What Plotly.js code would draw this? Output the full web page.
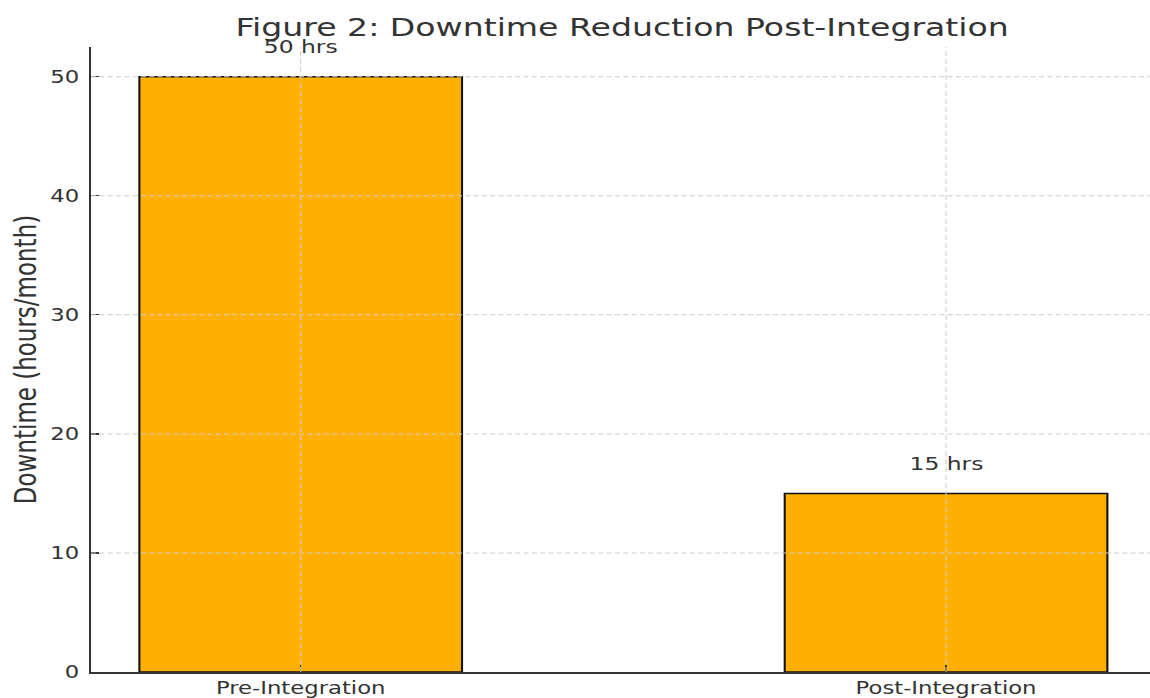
<!DOCTYPE html>
<html>
<head>
<meta charset="utf-8">
<script src="https://cdn.plot.ly/plotly-3.0.1.min.js"></script>
<style>
html,body{margin:0;padding:0;background:#fff;overflow:hidden;}
#wrap{width:1150px;height:698px;overflow:hidden;}
#chart{width:885px;height:698px;transform:scaleX(1.2994);transform-origin:0 0;}
</style>
</head>
<body>
<div id="wrap"><div id="chart"></div></div>
<script>
const categories = ["Pre-Integration", "Post-Integration"];
const downtime = [50, 15];
const barLabels = ["50 hrs", "15 hrs"];
const yTicks = [0, 10, 20, 30, 40, 50];

const txt = "#333333";
const gridColor = "#cccccc";
const font = "DejaVu Sans";

const trace = {
  type: "bar",
  x: categories,
  y: downtime,
  width: 0.5,
  marker: { color: "#FFAF00", line: { color: "#111111", width: 1.6 } },
  hoverinfo: "skip"
};

const shapes = [];
yTicks.filter(v => v > 0).forEach(v => shapes.push({
  type: "line", layer: "above", xref: "paper", yref: "y", x0: 0, x1: 1, y0: v, y1: v,
  line: { color: gridColor, width: 1, dash: "4px,2.4px" }
}));
categories.forEach(c => shapes.push({
  type: "line", layer: "above", xref: "x", yref: "paper", x0: c, x1: c, y0: 0, y1: 1,
  line: { color: gridColor, width: 0.8, dash: "5px,3px" }
}));

const annotations = categories.map((c, i) => ({
  x: c, y: downtime[i], text: barLabels[i], showarrow: false,
  yshift: 30, font: { family: font, size: 18, color: txt }
}));

const layout = {
  width: 885, height: 698,
  margin: { l: 70, r: 0, t: 47, b: 26 },
  paper_bgcolor: "#ffffff", plot_bgcolor: "#ffffff",
  title: { text: "Figure 2: Downtime Reduction Post-Integration", x: 0.541, xanchor: "center", y: 0.961, yanchor: "middle",
           font: { family: font, size: 25.5, color: txt } },
  xaxis: {
    type: "category", range: [-0.325, 1.316],
    showgrid: false, zeroline: false,
    showline: true, linecolor: txt, linewidth: 1.5,
    ticks: "inside", ticklen: 7, tickcolor: txt, tickwidth: 1.2,
    tickfont: { family: font, size: 17.5, color: txt },
    ticklabelstandoff: 0
  },
  yaxis: {
    range: [0, 52.5], tickvals: yTicks, ticktext: yTicks.map(String),
    showgrid: false, zeroline: false,
    showline: true, linecolor: txt, linewidth: 1.5,
    ticks: "inside", ticklen: 6, tickcolor: txt, tickwidth: 1.2,
    tickfont: { family: font, size: 17.5, color: txt },
    ticklabelstandoff: 4,
    title: { text: "Downtime (hours/month)", standoff: 4,
             font: { family: font, size: 23, color: txt } }
  },
  shapes: shapes,
  annotations: annotations,
  showlegend: false
};

Plotly.newPlot("chart", [trace], layout, { displayModeBar: false, staticPlot: true });
</script>
</body>
</html>
